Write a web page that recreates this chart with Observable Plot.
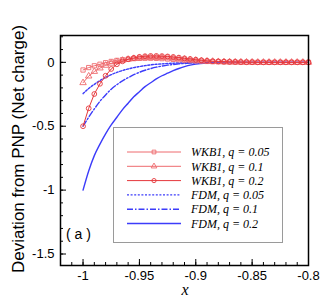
<!DOCTYPE html>
<html>
<head>
<meta charset="utf-8">
<script src="https://cdn.jsdelivr.net/npm/d3@7"></script>
<script src="https://cdn.jsdelivr.net/npm/@observablehq/plot@0.6"></script>
<style>
  html, body { margin: 0; padding: 0; background: #fff; }
  #chart { position: relative; width: 332px; height: 299px; }
</style>
</head>
<body>
<div id="chart"></div>
<script>
// WKB1 sample positions (markers)
const xWKB = [-1,-0.995,-0.99,-0.985,-0.98,-0.975,-0.97,-0.965,-0.96,-0.955,-0.95,-0.945,-0.94,-0.935,-0.93,-0.925,-0.92,-0.915,-0.91,-0.905,-0.9,-0.895,-0.89,-0.885,-0.88,-0.875,-0.87,-0.865,-0.86,-0.855,-0.85,-0.845,-0.84,-0.835,-0.83,-0.825,-0.82,-0.815,-0.81,-0.805,-0.8];
const wkbQ005 = [-0.060,-0.041,-0.027,-0.015,-0.003,0.007,0.015,0.021,0.026,0.029,0.031,0.032,0.032,0.031,0.029,0.026,0.023,0.020,0.017,0.014,0.011,0.009,0.007,0.005,0.004,0.003,0.002,0.002,0.001,0.001,0.001,0,0,0,0,0,0,0,0,0,0];
const wkbQ01  = [-0.160,-0.108,-0.072,-0.045,-0.024,-0.008,0.005,0.015,0.023,0.029,0.033,0.036,0.037,0.037,0.036,0.034,0.031,0.027,0.023,0.019,0.015,0.012,0.009,0.007,0.005,0.004,0.003,0.002,0.002,0.001,0.001,0,0,0,0,0,0,0,0,0,0];
const wkbQ02  = [-0.500,-0.360,-0.248,-0.168,-0.105,-0.052,-0.015,0.008,0.024,0.035,0.043,0.048,0.050,0.050,0.049,0.046,0.042,0.037,0.031,0.026,0.021,0.016,0.012,0.009,0.007,0.005,0.004,0.003,0.002,0.001,0.001,0,0,0,0,0,0,0,0,0,0];

// FDM curves
const xFDM = [-1,-0.995,-0.99,-0.985,-0.98,-0.975,-0.97,-0.965,-0.96,-0.955,-0.95,-0.945,-0.94,-0.935,-0.93,-0.925,-0.92,-0.915,-0.91,-0.905,-0.9,-0.89,-0.88,-0.87,-0.86,-0.8];
const fdmQ005 = [-0.245,-0.205,-0.172,-0.143,-0.118,-0.097,-0.079,-0.064,-0.052,-0.041,-0.033,-0.026,-0.020,-0.015,-0.012,-0.009,-0.007,-0.005,-0.004,-0.003,-0.002,-0.001,0,0,0,0];
const fdmQ01  = [-0.5,-0.43,-0.365,-0.305,-0.255,-0.21,-0.175,-0.145,-0.12,-0.097,-0.078,-0.062,-0.049,-0.038,-0.029,-0.022,-0.017,-0.012,-0.009,-0.006,-0.004,-0.002,-0.001,0,0,0];
const fdmQ02  = [-1.0,-0.85,-0.73,-0.64,-0.56,-0.49,-0.43,-0.37,-0.32,-0.27,-0.23,-0.19,-0.16,-0.13,-0.105,-0.085,-0.065,-0.048,-0.034,-0.022,-0.014,-0.006,-0.003,-0.001,0,0];

// ticks
const xTicks = [-1,-0.95,-0.9,-0.85,-0.8];
const xTickLabels = ["-1","-0.95","-0.9","-0.85","-0.8"];
const yTicks = [0,-0.5,-1,-1.5];
const yTickLabels = ["0","-0.5","-1","-1.5"];
const xMinor = d3.range(-101, -79).map(i => i / 100);
const yMinor = d3.range(-15, 3).map(i => i / 10);

const legendLabels = ["WKB1, q = 0.05","WKB1, q = 0.1","WKB1, q = 0.2","FDM, q = 0.05","FDM, q = 0.1","FDM, q = 0.2"];

const red = "#e5373b";
const redLight = "#ee6b6e";
const blue = "#3c3cfa";

const wkbSeries = [
  {ys: wkbQ005, symbol: "square", color: redLight},
  {ys: wkbQ01, symbol: "triangle", color: redLight},
  {ys: wkbQ02, symbol: "circle", color: red}
];
const fdmSeries = [
  {ys: fdmQ005, dash: "2,1.6"},
  {ys: fdmQ01, dash: "6,2,1.5,2"},
  {ys: fdmQ02, dash: null}
];

const W = 332, H = 299;
const mL = 60, mR = 24, mT = 35, mB = 34;
const innerW = W - mL - mR, innerH = H - mT - mB;

const marks = [];
marks.push(Plot.tickY(yMinor, {y: d => d, stroke: "black", strokeWidth: 1, insetRight: innerW - 3}));
marks.push(Plot.tickY(yTicks, {y: d => d, stroke: "black", strokeWidth: 1, insetRight: innerW - 6}));
marks.push(Plot.tickX(xMinor.filter(v => v >= -1.02 && v <= -0.8), {x: d => d, stroke: "black", strokeWidth: 1, insetTop: innerH - 3}));
marks.push(Plot.tickX(xTicks, {x: d => d, stroke: "black", strokeWidth: 1, insetTop: innerH - 6}));

fdmSeries.forEach(s => {
  marks.push(Plot.line(xFDM.map((x, i) => ({x, y: s.ys[i]})), {x: "x", y: "y", stroke: blue, strokeWidth: 1.4, strokeDasharray: s.dash, curve: "monotone-x"}));
});
wkbSeries.forEach(s => {
  const data = xWKB.map((x, i) => ({x, y: s.ys[i]}));
  marks.push(Plot.line(data, {x: "x", y: "y", stroke: s.color, strokeWidth: 1}));
  marks.push(Plot.dot(data, {x: "x", y: "y", symbol: s.symbol, stroke: s.color, fill: "none", r: 2.4, strokeWidth: 0.9}));
});

marks.push(Plot.axisX(xTicks, {tickSize: 0, tickPadding: 5, tickFormat: (d, i) => xTickLabels[i], fontSize: 13, label: null}));
marks.push(Plot.axisY(yTicks, {tickSize: 0, tickPadding: 6, tickFormat: (d, i) => yTickLabels[i], fontSize: 13, label: null}));
marks.push(Plot.frame({stroke: "black", strokeWidth: 1.5}));

const plot = Plot.plot({
  width: W, height: H,
  marginLeft: mL, marginRight: mR, marginTop: mT, marginBottom: mB,
  style: {fontFamily: "'Liberation Sans', Arial, sans-serif", fontSize: "13px", background: "#fff", color: "black"},
  x: {domain: [-1.02, -0.8]},
  y: {domain: [-1.59, 0.21]},
  marks
});
document.getElementById("chart").appendChild(plot);

const svg = d3.select(plot);
const ty = 149;
svg.append("text").attr("x", 20).attr("y", ty)
  .attr("transform", `rotate(-90, 20, ${ty})`)
  .attr("text-anchor", "middle").attr("dominant-baseline", "middle")
  .style("font-family", "'Liberation Sans', Arial, sans-serif").style("font-size", "17px")
  .text("Deviation from PNP (Net charge)");
svg.append("text").attr("x", 185).attr("y", 295)
  .attr("text-anchor", "middle")
  .style("font-family", "'Liberation Serif', 'Times New Roman', serif").style("font-style", "italic").style("font-size", "16px")
  .text("x");

svg.append("text").attr("x", 66).attr("y", 239).attr("text-anchor", "start")
  .style("font-family", "'Liberation Sans', Arial, sans-serif").style("font-size", "14px")
  .style("white-space", "pre")
  .text("( a )");

const lg = svg.append("g").attr("text-anchor", "start");
lg.append("rect").attr("x", 113.5).attr("y", 127.5).attr("width", 169).attr("height", 115)
  .attr("fill", "white").attr("stroke", "#9a9a9a").attr("stroke-width", 1);
const rowY = i => 152 + i * 14.3;
legendLabels.forEach((lab, i) => {
  const y = rowY(i);
  let color, dash = null, sym = null, sw = 1.2;
  if (i < 3) { color = wkbSeries[i].color; sym = wkbSeries[i].symbol; sw = 1; }
  else { color = blue; dash = fdmSeries[i - 3].dash; sw = 1.4; }
  lg.append("line").attr("x1", 127).attr("x2", 181).attr("y1", y).attr("y2", y)
    .attr("stroke", color).attr("stroke-width", sw).attr("stroke-dasharray", dash);
  if (sym) {
    const symbolType = sym === "square" ? d3.symbolSquare : sym === "triangle" ? d3.symbolTriangle : d3.symbolCircle;
    lg.append("path").attr("d", d3.symbol(symbolType, 14)()).attr("transform", `translate(154,${y})`)
      .attr("fill", "none").attr("stroke", color).attr("stroke-width", 0.9);
  }
  lg.append("text").attr("x", 191).attr("y", y).attr("dy", "0.35em").attr("text-anchor", "start")
    .style("font-family", "'Liberation Serif', 'Times New Roman', serif").style("font-style", "italic").style("font-size", "12px")
    .text(lab);
});
</script>
</body>
</html>
